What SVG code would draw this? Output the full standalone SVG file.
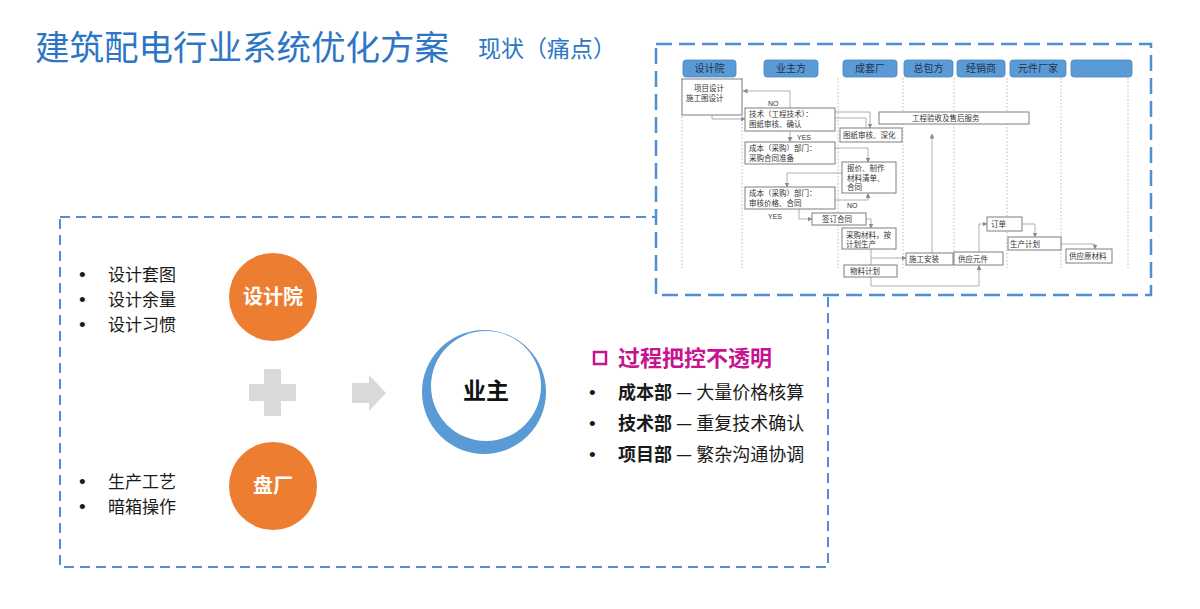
<svg xmlns="http://www.w3.org/2000/svg" width="1200" height="609" viewBox="0 0 1200 609">
<defs>
<style>
.cjk{font-family:"Noto Sans CJK SC","Noto Sans",sans-serif}
.title{font-size:34.5px;fill:#2d76c6}
.sub{font-size:23px;fill:#2d76c6}
.bl{font-size:17px;fill:#1a1a1a}
.bl2{font-size:18px;fill:#1a1a1a}
.dot{font-family:"Liberation Sans",sans-serif;font-size:19px;fill:#1a1a1a}
.circ{fill:#ed7d31}
.ctext{font-size:20px;font-weight:bold;fill:#ffffff}
.hdr{fill:#5b9bd5;stroke:#4a86c0;stroke-width:0.8}
.htext{font-size:10px;fill:#1f3350}
.box{fill:#ffffff;stroke:#7f7f7f;stroke-width:1}
.bt{font-size:7.5px;fill:#333333}
.life{stroke:#a6a6a6;stroke-width:0.8;stroke-dasharray:1.5 2}
.conn{fill:none;stroke:#a6a6a6;stroke-width:0.9}
.arr{marker-end:url(#ah)}
.lbl{font-size:7px;fill:#333333;font-family:"Liberation Sans",sans-serif}
.gray{fill:#d9d9d9}
.mag{fill:#c8138f}
</style>
<marker id="ah" markerWidth="5" markerHeight="5" refX="4.5" refY="2.5" orient="auto" markerUnits="userSpaceOnUse">
<path d="M0,0 L5,2.5 L0,5 z" fill="#8c8c8c"/>
</marker>
</defs>
<rect width="1200" height="609" fill="#ffffff"/>

<g id="title" class="cjk">
<text x="35" y="60" class="title">建筑配电行业系统优化方案</text>
<text x="478" y="57" class="sub">现状（痛点）</text>
</g>

<g id="frame-left">
<rect x="60" y="217" width="768" height="350" fill="none" stroke="#4f90d4" stroke-width="2" stroke-dasharray="10 6"/>
</g>

<g id="frame-swimlane">
<rect x="656" y="44" width="495" height="251" fill="#ffffff" stroke="#4f90d4" stroke-width="2.5" stroke-dasharray="16 7"/>
</g>

<g id="design-list">
<text x="79" y="281" class="dot">•</text><text x="108" y="281" class="cjk bl">设计套图</text>
<text x="79" y="306" class="dot">•</text><text x="108" y="306" class="cjk bl">设计余量</text>
<text x="79" y="331" class="dot">•</text><text x="108" y="331" class="cjk bl">设计习惯</text>
</g>

<g id="node-design">
<circle cx="273" cy="297" r="44" class="circ"/>
<text x="273" y="304" text-anchor="middle" class="cjk ctext">设计院</text>
</g>

<g id="plus">
<rect x="249" y="384" width="47" height="17" class="gray"/>
<rect x="264" y="369" width="17" height="47" class="gray"/>
</g>

<g id="arrow-gray">
<polygon points="352,383 369,383 369,375 386,393 369,411 369,403 352,403" class="gray"/>
</g>

<g id="node-factory">
<circle cx="273" cy="486" r="44" class="circ"/>
<text x="273" y="493" text-anchor="middle" class="cjk ctext">盘厂</text>
</g>

<g id="factory-list">
<text x="79" y="488" class="dot">•</text><text x="108" y="488" class="cjk bl">生产工艺</text>
<text x="79" y="513" class="dot">•</text><text x="108" y="513" class="cjk bl">暗箱操作</text>
</g>

<g id="node-owner">
<circle cx="484" cy="392" r="62" fill="#5b9bd5"/>
<circle cx="486" cy="386" r="55" fill="#ffffff"/>
<text x="486" y="399" text-anchor="middle" class="cjk" font-size="23" font-weight="bold" fill="#111111">业主</text>
</g>

<g id="pain-list">
<rect x="594" y="352" width="12" height="12" fill="none" stroke="#c8138f" stroke-width="2.5"/>
<text x="618" y="366" font-size="22" font-weight="bold" class="cjk mag">过程把控不透明</text>
<text x="589" y="399" class="dot">•</text><text x="618" y="399" class="cjk bl2"><tspan font-weight="bold">成本部</tspan> — 大量价格核算</text>
<text x="589" y="430" class="dot">•</text><text x="618" y="430" class="cjk bl2"><tspan font-weight="bold">技术部</tspan> — 重复技术确认</text>
<text x="589" y="461" class="dot">•</text><text x="618" y="461" class="cjk bl2"><tspan font-weight="bold">项目部</tspan> — 繁杂沟通协调</text>
</g>

<g id="lanes">
<g id="headers" class="cjk">
<rect x="683" y="60" width="53" height="17" rx="3" class="hdr"/><text x="709.5" y="72" text-anchor="middle" class="htext">设计院</text>
<rect x="764" y="60" width="54" height="17" rx="3" class="hdr"/><text x="791" y="72" text-anchor="middle" class="htext">业主方</text>
<rect x="843" y="60" width="54" height="17" rx="3" class="hdr"/><text x="870" y="72" text-anchor="middle" class="htext">成套厂</text>
<rect x="904" y="60" width="49" height="17" rx="3" class="hdr"/><text x="928.5" y="72" text-anchor="middle" class="htext">总包方</text>
<rect x="957" y="60" width="48" height="17" rx="3" class="hdr"/><text x="981" y="72" text-anchor="middle" class="htext">经销商</text>
<rect x="1010" y="60" width="56" height="17" rx="3" class="hdr"/><text x="1038" y="72" text-anchor="middle" class="htext">元件厂家</text>
<rect x="1071" y="60" width="61" height="17" rx="3" class="hdr"/>
</g>
<g id="lifelines">
<line x1="682" y1="78" x2="682" y2="268" class="life"/>
<line x1="742" y1="78" x2="742" y2="268" class="life"/>
<line x1="838" y1="78" x2="838" y2="268" class="life"/>
<line x1="903" y1="78" x2="903" y2="268" class="life"/>
<line x1="954" y1="78" x2="954" y2="268" class="life"/>
<line x1="1007" y1="78" x2="1007" y2="268" class="life"/>
<line x1="1061" y1="78" x2="1061" y2="268" class="life"/>
<line x1="1128" y1="78" x2="1128" y2="268" class="life"/>
</g>
</g>

<g id="connectors">
<path d="M790,108 V91 H743" class="conn arr"/>
<path d="M712,115 V119 H745" class="conn arr"/>
<path d="M790,131 V141.5" class="conn arr"/>
<path d="M835,112 H870 V128" class="conn arr"/>
<path d="M835,118 H866 V128" class="conn"/>
<path d="M835,148 H868 V162" class="conn arr"/>
<path d="M842,173 H787 V187" class="conn arr"/>
<path d="M835,200 H868 V193.5" class="conn arr"/>
<path d="M799,209 V219 H812" class="conn arr"/>
<path d="M866,219 H871 V228" class="conn arr"/>
<path d="M871,249 V265" class="conn"/>
<path d="M871,258 H906" class="conn arr"/>
<path d="M871,277 V286 H979 V265.5" class="conn arr"/>
<path d="M932,253 V134" class="conn arr"/>
<path d="M979,252 V224 H987" class="conn arr"/>
<path d="M1022,224 H1035 V237" class="conn arr"/>
<path d="M1061,244 H1095 V249" class="conn arr"/>
<text x="768" y="106" class="lbl">NO</text>
<text x="797" y="140" class="lbl">YES</text>
<text x="847" y="208" class="lbl">NO</text>
<text x="768" y="219" class="lbl">YES</text>
</g>

<g id="box-design" class="cjk">
<rect x="682" y="79" width="60" height="36" class="box"/>
<text x="694" y="91" class="bt">项目设计</text>
<text x="686" y="101" class="bt">施工图设计</text>
</g>
<g id="box-tech" class="cjk">
<rect x="745" y="108" width="90" height="23" class="box"/>
<text x="749" y="117" class="bt">技术（工程技术）：</text>
<text x="749" y="127" class="bt">图纸审核、确认</text>
</g>
<g id="box-review" class="cjk">
<rect x="840" y="128" width="62" height="14" class="box"/>
<text x="843" y="138" class="bt">图纸审核、深化</text>
</g>
<g id="box-accept" class="cjk">
<rect x="879" y="112" width="150" height="12" class="box"/>
<text x="912" y="121" class="bt">工程验收及售后服务</text>
</g>
<g id="box-cost1" class="cjk">
<rect x="745" y="142" width="90" height="22" class="box"/>
<text x="749" y="151" class="bt">成本（采购）部门：</text>
<text x="749" y="161" class="bt">采购合同准备</text>
</g>
<g id="box-quote" class="cjk">
<rect x="842" y="162" width="54" height="31" class="box"/>
<text x="847" y="171" class="bt">报价、制作</text>
<text x="847" y="181" class="bt">材料清单、</text>
<text x="847" y="190" class="bt">合同</text>
</g>
<g id="box-cost2" class="cjk">
<rect x="745" y="187" width="90" height="22" class="box"/>
<text x="749" y="196" class="bt">成本（采购）部门：</text>
<text x="749" y="206" class="bt">审核价格、合同</text>
</g>
<g id="box-sign" class="cjk">
<rect x="812" y="213" width="54" height="12" class="box"/>
<text x="822" y="222" class="bt">签订合同</text>
</g>
<g id="box-purchase" class="cjk">
<rect x="842" y="228" width="54" height="21" class="box"/>
<text x="846" y="238" class="bt">采购材料，按</text>
<text x="846" y="247" class="bt">计划生产</text>
</g>
<g id="box-material" class="cjk">
<rect x="844" y="265" width="53" height="12" class="box"/>
<text x="850" y="274" class="bt">物料计划</text>
</g>
<g id="box-install" class="cjk">
<rect x="906" y="253" width="47" height="12" class="box"/>
<text x="909" y="262" class="bt">施工安装</text>
</g>
<g id="box-supply" class="cjk">
<rect x="954" y="252" width="49" height="13" class="box"/>
<text x="958" y="262" class="bt">供应元件</text>
</g>
<g id="box-order" class="cjk">
<rect x="987" y="217" width="35" height="14" class="box"/>
<text x="991" y="227" class="bt">订单</text>
</g>
<g id="box-plan" class="cjk">
<rect x="1008" y="237" width="53" height="13" class="box"/>
<text x="1010" y="247" class="bt">生产计划</text>
</g>
<g id="box-raw" class="cjk">
<rect x="1066" y="249" width="46" height="14" class="box"/>
<text x="1069" y="259" class="bt">供应原材料</text>
</g>
</svg>
